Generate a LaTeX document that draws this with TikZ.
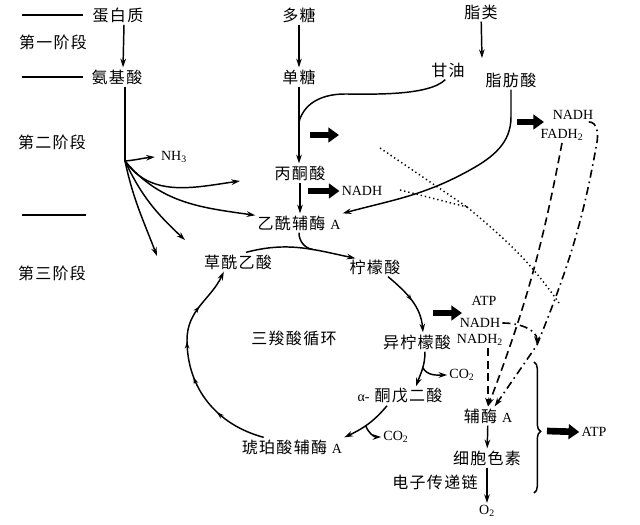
\documentclass[tikz,border=0pt]{standalone}
\usepackage{fontspec}
\setmainfont{Liberation Serif}
\newfontfamily\cjk[LetterSpace=8]{Noto Sans CJK SC}
\usetikzlibrary{
    arrows.meta,
    calc,
    decorations.pathreplacing,
    decorations.markings
}
\newcommand{\rmpart}[1]{{\rmfamily\fontsize{10.5pt}{12pt}\selectfont #1}}

\begin{document}
\begin{tikzpicture}[
    x=0.75pt, y=0.75pt,
    every node/.style={
        font=\fontsize{10.5pt}{12pt}\selectfont,
        inner sep=1.5pt
    },
    zh/.style={
        font=\cjk\fontsize{12pt}{14pt}\selectfont
    },
    chem/.style={
        font=\fontsize{10.5pt}{12pt}\selectfont
    },
    line/.style={
        line width=1.1pt,
        draw=black
    },
    arrow/.style={
        line,
        -{Stealth[length=6.5pt,width=4.2pt]}
    },
    fat/.style={
        line width=5pt,
        -{Triangle[length=8pt,width=11pt]}
    },
    dotline/.style={
        line width=1.1pt,
        dash pattern=on 1pt off 2.2pt
    },
    dashline/.style={
        line width=1.2pt,
        dash pattern=on 6pt off 3.5pt,
        -{Stealth[length=6.5pt,width=4.2pt]}
    },
    dashdotline/.style={
        line width=1.2pt,
        dash pattern=on 6pt off 3pt on 1.2pt off 3pt,
        -{Stealth[length=6.5pt,width=4.2pt]}
    },
    flow/.style={
        postaction={decorate, decoration={markings,
            mark=at position 0.5 with {\arrow{Stealth[length=5pt,width=3.5pt]}}}}
    },
    cycmarks/.style={
        postaction={decorate, decoration={markings,
            mark=at position 0.25 with {\arrow{Stealth[length=5pt,width=3.5pt]}},
            mark=at position 0.45 with {\arrow{Stealth[length=5pt,width=3.5pt]}},
            mark=at position 0.62 with {\arrow{Stealth[length=5pt,width=3.5pt]}},
            mark=at position 0.8 with {\arrow{Stealth[length=5pt,width=3.5pt]}}}}
    },
    bracket/.style={
        line width=1.1pt,
        decorate,
        decoration={brace, amplitude=5pt, aspect=0.53}
    }
]
\useasboundingbox (0,0) rectangle (640,-525);

% ===========================================================
% STAGE LABELS
% ===========================================================

\node[zh] (stage1) at (53,-42) {第一阶段};
\node[zh] (stage2) at (52,-142) {第二阶段};
\node[zh] (stage3) at (52,-273) {第三阶段};

\draw[line] (22,-15) -- (83,-15);
\draw[line] (22,-77) -- (83,-77);
\draw[line] (22,-215) -- (86,-215);

% ===========================================================
% STAGE ONE: breakdown of large molecules
% ===========================================================

\node[zh] (protein) at (118,-15) {蛋白质};
\node[zh] (polysac) at (299,-15) {多糖};
\node[zh] (lipid) at (481,-12) {脂类};

\node[zh] (amino) at (117,-77) {氨基酸};
\node[zh] (mono) at (299,-77) {单糖};
\node[zh] (glycerol) at (448,-70) {甘油};
\node[zh] (fatty) at (511,-80) {脂肪酸};

\coordinate (lipidend) at (482,-58);

\draw[arrow] ([xshift=4.5pt]protein.south) -- ([xshift=4.5pt]amino.north);
\draw[arrow] (polysac) -- (mono);
\draw[arrow] (lipid) -- (lipidend);

% ===========================================================
% STAGE TWO: amino acids, sugars, fats to acetyl-CoA
% ===========================================================

\node[chem] (nh3) at (174,-157) {NH\textsubscript{3}};
\node[zh] (pyruvate) at (300,-173) {丙酮酸};
\node[chem] (nadhA) at (362,-191) {NADH};
\node[zh] (acetyl) at (299,-223) {乙酰辅酶 \rmpart{A}};
\node[chem] (nadhB) at (573,-115) {NADH};
\node[chem] (fadh) at (562,-135) {FADH\textsubscript{2}};

% Amino acid fan
\coordinate (fan) at (125,-161);
\coordinate (fanA) at (240,-181);
\coordinate (fanC) at (185,-240);
\coordinate (fanD) at (157,-256);

\draw[line] ([xshift=6pt]amino.south) -- (fan);
\draw[arrow] (fan) to[out=5,in=185] ([xshift=-3pt]nh3.west);
\draw[arrow] (fan) to[out=-55,in=188] (fanA);
\draw[arrow] (fan) to[out=-50,in=172] (acetyl.170);
\draw[arrow] (fan) to[out=-65,in=137] (fanC);
\draw[arrow] (fan) to[out=-78,in=111] (fanD);

% Sugar pathway, glycerol joins it
\coordinate (gly1) at (345,-94);
\coordinate (gjoin) at (299,-122);

\draw[arrow] (mono.south) -- (mono.south |- pyruvate.north);
\draw[line] ([xshift=-2pt]glycerol.south)
    to[out=-135,in=0,looseness=0.6] (gly1)
    to[out=180,in=75] (gjoin);
\draw[arrow] (pyruvate.south) -- (pyruvate.south |- acetyl.north);

\coordinate (fa1s) at (310,-135);
\coordinate (fa1e) at (339,-135);
\coordinate (fa2s) at (308,-191);
\draw[fat] (fa1s) -- (fa1e);
\draw[fat] (fa2s) -- (nadhA.west);

% Fatty acid pathway
\coordinate (fat1) at (511,-117);
\coordinate (fbend) at (470,-170);

\draw[arrow] (fatty.south) -- (fat1)
    to[out=-90,in=29] (fbend)
    to[out=-151,in=15] (acetyl.north east);

\coordinate (fa3s) at (517,-122);
\coordinate (fa3e) at (544,-122);
\draw[fat] (fa3s) -- (fa3e);

% Reducing power handed on to the chain
\coordinate (dotA) at (380,-148);
\coordinate (dotB) at (400,-190);
\coordinate (dotM) at (467,-207);
\coordinate (dotE) at (559,-303);

\draw[dotline] (dotA) -- (dotM) (dotB) -- (dotM)
    (dotM) to[out=-40,in=125] (dotE);

% ===========================================================
% STAGE THREE: citric acid cycle and electron transport
% ===========================================================

\node[zh] (oxalo) at (238,-262) {草酰乙酸};
\node[zh] (citrate) at (375,-267) {柠檬酸};
\node[zh] (tca) at (294,-338) {三羧酸循环};
\node[zh] (isocit) at (417,-342) {异柠檬酸};
\node[chem] (co2a) at (462,-375) {CO\textsubscript{2}};
\node[zh] (akg) at (400,-396) {\rmpart{α-} 酮戊二酸};
\node[zh] (succ) at (292,-447) {琥珀酸辅酶 \rmpart{A}};
\node[chem] (co2b) at (396,-437) {CO\textsubscript{2}};

\node[chem] (atpA) at (484,-301) {ATP};
\node[chem] (nadhC) at (480,-323) {NADH};
\node[chem] (nadh2) at (480,-340) {NADH\textsubscript{2}};
\node[zh] (coa) at (488,-416) {辅酶 \rmpart{A}};
\node[zh] (cyto) at (487,-458) {细胞色素};
\node[zh] (etc) at (435,-482) {电子传递链};
\node[chem] (o2) at (487,-511) {O\textsubscript{2}};
\node[chem] (atpB) at (594,-432) {ATP};

% Cycle
\coordinate (cycleft) at (187,-340);

\draw[arrow] ($(oxalo.north)+(8,0)$)
    to[out=15,in=168] coordinate[pos=0.62] (cjoin)
    ($(citrate.north west)+(8,-1)$);
\draw[line] (acetyl.south) to[out=-90,in=170] (cjoin);

\draw[arrow, flow] ($(citrate.south)+(13,0)$)
    to[out=-40,in=95] ($(isocit.north)+(6,0)$);

\draw[arrow] ($(isocit.south)+(8,0)$)
    to[out=-90,in=70] coordinate[pos=0.45] (cb1)
    ($(akg.north)+(16,0)$);
\draw[arrow] (cb1) to[out=-60,in=180] (co2a.west);

\draw[arrow] ($(akg.south)+(-13,0)$)
    to[out=-130,in=25] coordinate[pos=0.55] (cb2)
    (succ.north east);
\draw[arrow] (cb2) to[out=-70,in=180] (co2b.west);

\draw[arrow, cycmarks] ($(succ.north west)+(24,0)$)
    to[out=165,in=-90] (cycleft)
    to[out=90,in=-115] ($(oxalo.south west)+(22,0)$);

\coordinate (fa4s) at (433,-313);
\coordinate (fa4e) at (462,-313);
\draw[fat] (fa4s) -- (fa4e);

% Electron carriers into the chain
\coordinate (ddtop) at (597,-142);
\coordinate (ddjoin) at (537,-345);

\draw[dashline] (fadh.south) to[bend left=5] (coa.north);
\draw[dashline] (coa.north |- nadh2.south) -- (coa.north);
\draw[dashdotline] ([xshift=-5pt]nadhB.south east)
    to[out=0,in=80] (ddtop)
    to[out=-100,in=68] (ddjoin)
    -- ([xshift=5pt]coa.north);
\draw[dashdotline] (nadhC.east) to[out=0,in=90] (ddjoin);

\draw[arrow] (coa) -- (cyto);
\draw[arrow] (cyto) -- (o2);

% Chain yields ATP
\coordinate (bt) at (534,-362);
\coordinate (bb) at (534,-493);
\coordinate (btip) at (547,-431);

\draw[bracket] (bt) -- (bb);
\draw[fat] (btip) -- (atpB.west);

\end{tikzpicture}
\end{document}
